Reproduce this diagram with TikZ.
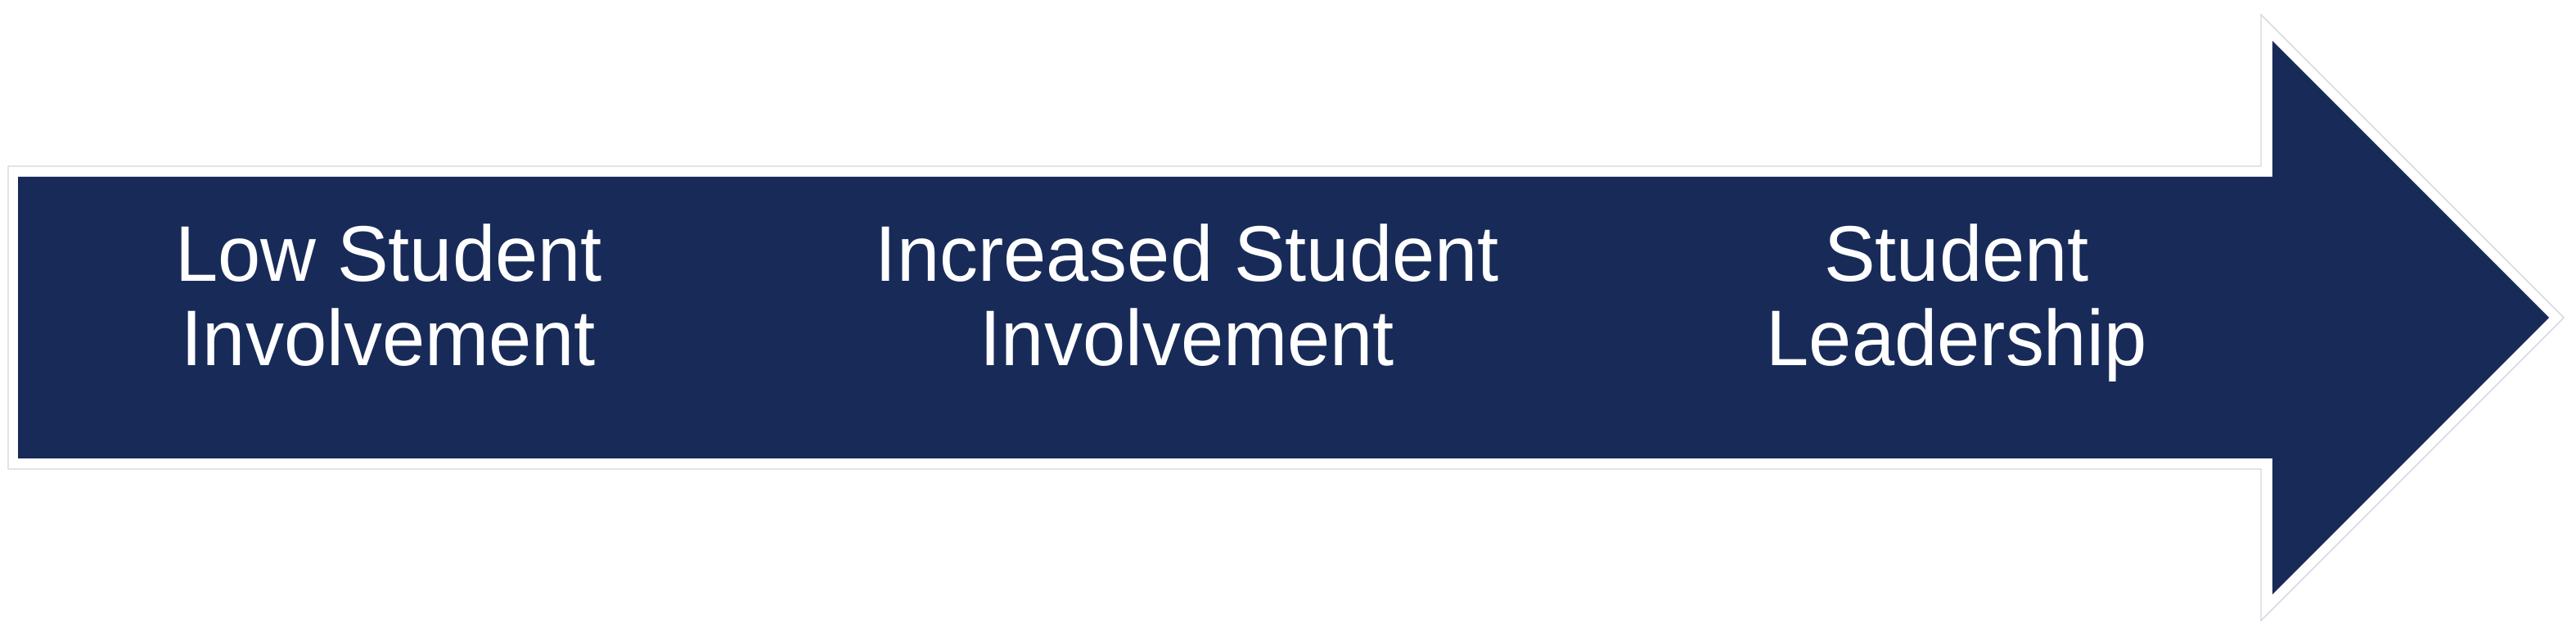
\documentclass[tikz,border=0pt]{standalone}
\usepackage{fontspec}
\setmainfont[FakeStretch=0.975]{Liberation Sans}
\begin{document}
\begin{tikzpicture}[
  x=1cm,y=1cm,
  lbl/.style={text=white,inner sep=0pt,anchor=base,font=\fontsize{27.4pt}{32pt}\selectfont}
]
\definecolor{navy}{RGB}{24,43,88}
\definecolor{rim}{RGB}{214,214,222}
\useasboundingbox (0,0) rectangle (31.48,7.83);
% outer outline
\draw[rim,line width=0.4pt,fill=white]
  (0.10,5.80) -- (27.63,5.80) -- (27.63,7.65) -- (31.33,3.95)
  -- (27.63,0.25) -- (27.63,2.10) -- (0.10,2.10) -- cycle;
% navy arrow
\fill[navy]
  (0.22,5.67) -- (27.77,5.67) -- (27.77,7.33) -- (31.15,3.95)
  -- (27.77,0.57) -- (27.77,2.23) -- (0.22,2.23) -- cycle;
% labels
\node[lbl] (a1) at (4.75,4.39) {Low Student};
\node[lbl] (a2) at (4.75,3.36) {Involvement};
\node[lbl] (b1) at (14.51,4.39) {Increased Student};
\node[lbl] (b2) at (14.51,3.36) {Involvement};
\node[lbl] (c1) at (23.91,4.39) {Student};
\node[lbl] (c2) at (23.91,3.36) {Leadership};
\end{tikzpicture}
\end{document}
